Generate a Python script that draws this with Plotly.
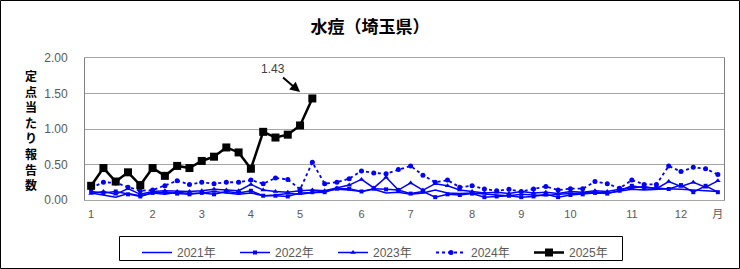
import plotly.graph_objects as go

weeks = list(range(1, 53))

y2021 = [0.10, 0.07, 0.04, 0.09, 0.06, 0.10, 0.08, 0.11, 0.09, 0.10, 0.12, 0.10, 0.08, 0.10, 0.06, 0.07, 0.09, 0.08, 0.10, 0.12,
         0.15, 0.14, 0.12, 0.15, 0.10, 0.11, 0.08, 0.10, 0.14, 0.10, 0.09, 0.10, 0.08, 0.07, 0.06, 0.08, 0.07, 0.06, 0.08, 0.09,
         0.10, 0.11, 0.10, 0.12, 0.15, 0.14, 0.15, 0.16, 0.15, 0.14, 0.13, 0.12]
y2022 = [0.12, 0.10, 0.12, 0.08, 0.05, 0.10, 0.11, 0.09, 0.08, 0.10, 0.08, 0.12, 0.10, 0.13, 0.06, 0.06, 0.05, 0.10, 0.11, 0.11,
         0.16, 0.16, 0.12, 0.16, 0.15, 0.14, 0.09, 0.12, 0.04, 0.08, 0.07, 0.09, 0.04, 0.05, 0.06, 0.04, 0.05, 0.08, 0.04, 0.07,
         0.08, 0.10, 0.09, 0.13, 0.20, 0.17, 0.17, 0.155, 0.21, 0.11, 0.20, 0.11]
y2023 = [0.09, 0.12, 0.08, 0.16, 0.08, 0.12, 0.13, 0.12, 0.12, 0.13, 0.15, 0.14, 0.13, 0.22, 0.14, 0.12, 0.11, 0.13, 0.14, 0.13,
         0.17, 0.21, 0.29, 0.17, 0.32, 0.14, 0.24, 0.14, 0.23, 0.20, 0.14, 0.12, 0.10, 0.11, 0.09, 0.12, 0.10, 0.11, 0.09, 0.12,
         0.11, 0.13, 0.12, 0.15, 0.17, 0.19, 0.16, 0.26, 0.19, 0.25, 0.18, 0.27]
y2024 = [0.17, 0.25, 0.24, 0.18, 0.13, 0.14, 0.20, 0.27, 0.22, 0.25, 0.23, 0.25, 0.25, 0.28, 0.23, 0.31, 0.29, 0.15, 0.53, 0.23,
         0.25, 0.30, 0.41, 0.38, 0.37, 0.43, 0.48, 0.35, 0.25, 0.28, 0.18, 0.20, 0.155, 0.13, 0.15, 0.12, 0.155, 0.19, 0.14, 0.16,
         0.16, 0.26, 0.23, 0.165, 0.28, 0.22, 0.22, 0.48, 0.40, 0.46, 0.44, 0.36]
y2025 = [0.20, 0.45, 0.26, 0.39, 0.21, 0.45, 0.34, 0.48, 0.45, 0.55, 0.61, 0.74, 0.67, 0.44, 0.96, 0.88, 0.92, 1.05, 1.43]

tick_weeks = [1, 6, 10, 14, 18, 23, 27, 32, 36, 40, 45, 49, 52]
tick_text = ["1", "2", "3", "4", "5", "6", "7", "8", "9", "10", "11", "12", "月"]
y_ticks = [0, 0.5, 1.0, 1.5, 2.0]

title_text = "水痘（埼玉県）"
ytitle_text = "定点当たり報告数"
peak_label = "1.43"

BLUE = "#0000FF"
FONT = "Liberation Sans, Arial, Noto Sans CJK JP, sans-serif"
CJK = "Noto Sans CJK JP, sans-serif"

fig = go.Figure()
fig.add_trace(go.Scatter(x=weeks, y=y2021, name="2021年", mode="lines",
                         line=dict(color=BLUE, width=1.5)))
fig.add_trace(go.Scatter(x=weeks, y=y2022, name="2022年", mode="lines+markers",
                         line=dict(color=BLUE, width=1.5),
                         marker=dict(symbol="square", size=4, color=BLUE)))
fig.add_trace(go.Scatter(x=weeks, y=y2023, name="2023年", mode="lines+markers",
                         line=dict(color=BLUE, width=1.5),
                         marker=dict(symbol="triangle-up", size=5, color=BLUE)))
fig.add_trace(go.Scatter(x=weeks, y=y2024, name="2024年", mode="lines+markers",
                         line=dict(color=BLUE, width=1.8, dash="dot"),
                         marker=dict(symbol="circle", size=5, color=BLUE)))
fig.add_trace(go.Scatter(x=weeks[:len(y2025)], y=y2025, name="2025年", mode="lines+markers",
                         line=dict(color="black", width=2.5),
                         marker=dict(symbol="square", size=8, color="black")))

L, R, T, B = 85, 16, 58, 69
W, H = 740, 269
pw, ph = W - L - R, H - T - B

def px_x(px):
    return (px - L) / pw

def px_y(py):
    return (H - B - py) / ph

fig.update_layout(
    width=W, height=H,
    margin=dict(l=L, r=R, t=T, b=B, autoexpand=False),
    paper_bgcolor="white", plot_bgcolor="white",
    font=dict(family=FONT, size=12, color="#595959"),
    title=dict(text="<b>" + title_text + "</b>", x=0.5, xref="container", xanchor="center",
               y=1 - 27 / H, yref="container", yanchor="middle",
               font=dict(family=CJK, size=17, color="black")),
    showlegend=True,
    legend=dict(orientation="h", x=px_x(137), y=px_y(238), xanchor="left", yanchor="top",
                borderwidth=0, bgcolor="rgba(0,0,0,0)", entrywidth=53,
                font=dict(family=FONT, size=12, color="#595959"), traceorder="normal"),
    xaxis=dict(range=[0.5, 52.5], tickmode="array", tickvals=tick_weeks, ticktext=tick_text,
               showgrid=False, zeroline=False, showline=True, linecolor="#A6A6A6", linewidth=1,
               mirror=True, ticks="", tickfont=dict(size=11, color="#595959"), ticklabelstandoff=4),
    yaxis=dict(range=[0, 2.0], tickmode="array", tickvals=y_ticks, tickformat=".2f",
               showgrid=True, gridcolor="#A6A6A6", gridwidth=1, zeroline=False,
               showline=True, linecolor="#808080", linewidth=1, mirror=True, ticks="",
               tickfont=dict(size=12, color="#595959"), ticklabelstandoff=14),
)

fig.add_annotation(x=18.0, y=1.52, xref="x", yref="y", text=peak_label, showarrow=True,
                   ax=-27, ay=-23, arrowhead=2, arrowsize=1, arrowwidth=2, arrowcolor="black",
                   font=dict(family=FONT, size=12, color="#404040"))

fig.add_annotation(x=px_x(31), y=px_y(129.5), xref="paper", yref="paper",
                   text="<b>" + "<br>".join(list(ytitle_text)) + "</b>", showarrow=False,
                   xanchor="center", yanchor="middle",
                   font=dict(family=CJK, size=12, color="black"))

# legend frame
fig.add_shape(type="rect", xref="paper", yref="paper",
              x0=px_x(119.5), x1=px_x(622.5), y0=px_y(260.5), y1=px_y(236.5),
              line=dict(color="black", width=1), fillcolor="rgba(0,0,0,0)", layer="above")

# outer chart frame
fig.add_shape(type="rect", xref="paper", yref="paper",
              x0=px_x(0.5), x1=px_x(W - 0.5), y0=px_y(H - 0.5), y1=px_y(0.5),
              line=dict(color="black", width=1), fillcolor="rgba(0,0,0,0)", layer="above")

fig.write_html("out.html")
